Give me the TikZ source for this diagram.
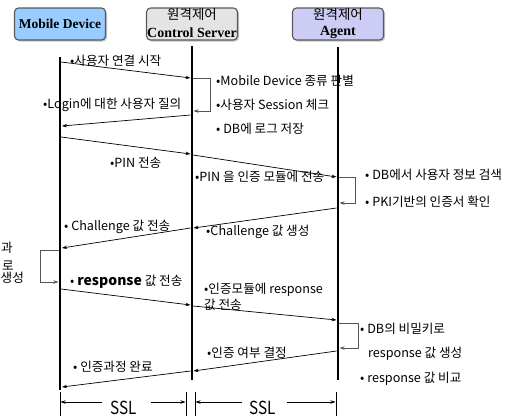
\documentclass[tikz,border=0pt]{standalone}
\usepackage{fontspec}
\usepackage{graphicx}
\setmainfont{Noto Sans CJK KR}
\newfontfamily\hdrfont{Liberation Serif}
\newfontfamily\krfont{Noto Sans CJK KR}
\usetikzlibrary{arrows.meta,shadows}
\definecolor{mobfill}{HTML}{99CCFF}
\definecolor{srvfill}{HTML}{E4E4E4}
\definecolor{agtfill}{HTML}{CCCCF5}
\definecolor{loopgray}{HTML}{555555}
\tikzset{
  hdr/.style={draw=black!65,line width=1.1pt,rounded corners=4pt,minimum width=91pt,minimum height=32pt,inner sep=0pt,align=center,drop shadow={shadow xshift=1.5pt,shadow yshift=-1.5pt,fill=black!45}},
  hdrkr/.style={inner sep=0pt,font=\krfont\fontsize{13.5}{14}\selectfont},
  hdren/.style={inner sep=0pt,font=\hdrfont\bfseries\fontsize{14}{14}\selectfont},
  life/.style={line width=2.4pt},
  msg/.style={line width=0.7pt,-{Stealth[length=5pt,width=3.5pt]}},
  loopc/.style={draw=loopgray,line width=0.7pt,-{Stealth[length=5pt,width=3.5pt]}},
  lbl/.style={anchor=west,inner sep=0pt,font=\fontsize{12.6}{14}\selectfont},
  ssl/.style={line width=0.6pt},
  sslarrow/.style={line width=0.6pt,-{Stealth[length=5pt,width=3.5pt]}},
  sslt/.style={inner sep=0pt,anchor=base,font=\fontsize{18}{20}\selectfont}
}
\begin{document}
\begin{tikzpicture}[x=1pt,y=-1pt]
\useasboundingbox (0,0) rectangle (526,415);
% headers
\node[hdr,fill=mobfill] (mob) at (60,24) {\hdrfont\bfseries\fontsize{13.5}{14}\selectfont Mobile Device};
\node[hdr,fill=srvfill] (srv) at (192,24) {};
\node[hdr,fill=agtfill] (agt) at (338,24) {};
\node[hdrkr] (srvkr) at (192,14.5) {원격제어};
\node[hdren] (srven) at (192,32.5) {Control Server};
\node[hdrkr] (agtkr) at (338,14.5) {원격제어};
\node[hdren] (agten) at (338,32.5) {Agent};
% lifelines
\coordinate (mT) at (60,57); \coordinate (mB) at (60,390);
\coordinate (sT) at (192,46); \coordinate (sB) at (192,380);
\coordinate (aT) at (338,47); \coordinate (aB) at (338,380);
\draw[life] (mT) -- (mB);
\draw[life] (sT) -- (sB);
\draw[life] (aT) -- (aB);
% message points
\coordinate (m1a) at (61,62);  \coordinate (m1b) at (190.5,78);
\coordinate (l1a) at (193,78); \coordinate (l1b) at (193.5,111);
\coordinate (m2a) at (190.5,115); \coordinate (m2b) at (62,126);
\coordinate (m3a) at (61,137); \coordinate (m3b) at (190.5,154);
\coordinate (m4a) at (193,155); \coordinate (m4b) at (336.5,177);
\coordinate (l2a) at (339,177); \coordinate (l2b) at (339.5,203);
\coordinate (m5a) at (336.5,208); \coordinate (m5b) at (193.5,228);
\coordinate (m6a) at (190.5,228); \coordinate (m6b) at (62,248);
\coordinate (l3a) at (59,250); \coordinate (l3b) at (58.5,282);
\coordinate (m7a) at (61,289); \coordinate (m7b) at (190.5,305);
\coordinate (m8a) at (193,306); \coordinate (m8b) at (336.5,320);
\coordinate (l4a) at (339,323); \coordinate (l4b) at (339.5,348);
\coordinate (m9a) at (336.5,351); \coordinate (m9b) at (193.5,371);
\coordinate (m10a) at (190.5,371); \coordinate (m10b) at (62,387);
\draw[msg] (m1a) -- (m1b);
\draw[loopc] (l1a) -- ++(17,0) |- (l1b);
\draw[msg] (m2a) -- (m2b);
\draw[msg] (m3a) -- (m3b);
\draw[msg] (m4a) -- (m4b);
\draw[loopc] (l2a) -- ++(16,0) |- (l2b);
\draw[msg] (m5a) -- (m5b);
\draw[msg] (m6a) -- (m6b);
\draw[loopc] (l3a) -- ++(-19,0) |- (l3b);
\draw[msg] (m7a) -- (m7b);
\draw[msg] (m8a) -- (m8b);
\draw[loopc] (l4a) -- ++(19,0) |- (l4b);
\draw[msg] (m9a) -- (m9b);
\draw[msg] (m10a) -- (m10b);
% labels
\node[lbl] (t1) at (70,61) {•사용자 연결 시작};
\node[lbl] (t2) at (216,81) {•Mobile Device 종류 판별};
\node[lbl] (t3) at (216,105) {•사용자 Session 체크};
\node[lbl] (t4) at (216,129) {• DB에 로그 저장};
\node[lbl] (t5) at (43,105) {•Login에 대한 사용자 질의};
\node[lbl] (t6) at (110,163) {•PIN 전송};
\node[lbl] (t7) at (195,177) {•PIN 을 인증 모듈에 전송};
\node[lbl] (t8) at (365,175) {• DB에서 사용자 정보 검색};
\node[lbl] (t9) at (365,202) {• PKI기반의 인증서 확인};
\node[lbl] (t10) at (64,227) {• Challenge 값 전송};
\node[lbl] (t11) at (206,232) {•Challenge 값 생성};
\node[lbl,anchor=east] (t12) at (13,248) {과};
\node[lbl,anchor=east] (t13) at (14,266) {로};
\node[lbl] (t14) at (0.5,278) {생성};
\node[lbl] (t15) at (70,282) {• {\fontsize{14}{14}\selectfont\bfseries response} 값 전송};
\node[lbl] (t16) at (204,290) {•인증모듈에 response};
\node[lbl] (t17) at (204,305) {값 전송};
\node[lbl] (t18) at (360,329) {• DB의 비밀키로};
\node[lbl] (t19) at (368,354) {response 값 생성};
\node[lbl] (t20) at (360,379) {• response 값 비교};
\node[lbl] (t21) at (207,353) {•인증 여부 결정};
\node[lbl] (t22) at (73,367) {• 인증과정 완료};
% SSL spans
\coordinate (k1t) at (60,392); \coordinate (k1b) at (60,416);
\coordinate (k2t) at (186,392); \coordinate (k2b) at (186,416);
\coordinate (k3t) at (195,392); \coordinate (k3b) at (195,416);
\coordinate (k4t) at (336,392); \coordinate (k4b) at (336,416);
\draw[ssl] (k1t) -- (k1b); \draw[ssl] (k2t) -- (k2b);
\draw[ssl] (k3t) -- (k3b); \draw[ssl] (k4t) -- (k4b);
\coordinate (s1a) at (102,402); \coordinate (s1b) at (60.5,402);
\coordinate (s2a) at (151,402); \coordinate (s2b) at (185.5,402);
\coordinate (s3a) at (242,402); \coordinate (s3b) at (195.5,402);
\coordinate (s4a) at (287,402); \coordinate (s4b) at (335.5,402);
\draw[sslarrow] (s1a) -- (s1b); \draw[sslarrow] (s2a) -- (s2b);
\draw[sslarrow] (s3a) -- (s3b); \draw[sslarrow] (s4a) -- (s4b);
\node[sslt] (ssl1) at (124,414) {\scalebox{0.85}[1]{SSL}};
\node[sslt] (ssl2) at (263,414) {\scalebox{0.85}[1]{SSL}};
\end{tikzpicture}
\end{document}
